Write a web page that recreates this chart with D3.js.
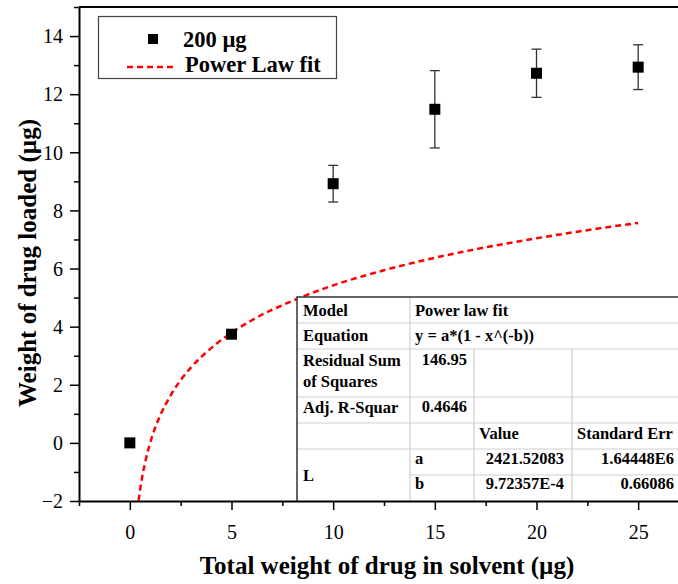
<!DOCTYPE html>
<html lang="en">
<head>
    <meta charset="UTF-8">
    <title>Drug loading vs total drug</title>
    <script src="https://d3js.org/d3.v7.min.js"></script>
    <style>
        body { margin: 0; padding: 0; background: #fff; }
        svg { display: block; font-family: "Liberation Serif", "Times New Roman", serif; }
        svg text { font-family: "Liberation Serif", "Times New Roman", serif; }
        .tick-label { font-size: 20px; fill: #000; }
        .axis-title { font-size: 25px; font-weight: bold; fill: #000; }
        .legend-text { font-size: 22.5px; font-weight: bold; fill: #000; }
        .cell { font-size: 16.5px; font-weight: bold; fill: #000; }
    </style>
</head>
<body>
<svg id="chart" width="678" height="584"></svg>
<script>
    // measured points
    const loadX = [0, 5, 10, 15, 20, 25];
    const loadY = [0, 3.74, 8.92, 11.48, 12.72, 12.93];
    const loadErr = [0, 0, 0.63, 1.33, 0.83, 0.77];

    // fit curve
    const fitX = [0.43, 0.5, 0.6, 0.75, 0.9, 1, 1.25, 1.5, 2, 2.5, 3, 4, 5, 6, 8, 10, 12.5, 15, 17.5, 20, 22.5, 25];
    const fitY = [-1.99, -1.63, -1.2, -0.68, -0.25, 0, 0.53, 0.95, 1.63, 2.16, 2.59, 3.26, 3.79, 4.22, 4.89, 5.42, 5.94, 6.37, 6.73, 7.04, 7.32, 7.57];

    const xTicks = [0, 5, 10, 15, 20, 25];
    const xMinor = [-2.5, 2.5, 7.5, 12.5, 17.5, 22.5, 27.5];
    const yTicks = [-2, 0, 2, 4, 6, 8, 10, 12, 14];
    const yMinor = [-1, 1, 3, 5, 7, 9, 11, 13, 15];

    const legendLabels = ['200 \u00b5g', 'Power Law fit'];

    // fit report table
    const tableRows = [
        ['Model', 'Power law fit'],
        ['Equation', 'y = a*(1 - x^(-b))'],
        ['Residual Sum|of Squares', '146.95', '', ''],
        ['Adj. R-Squar', '0.4646', '', ''],
        ['', '', 'Value', 'Standard Err'],
        ['L', 'a', '2421.52083', '1.64448E6'],
        ['', 'b', '9.72357E-4', '0.66086']
    ];

    const svg = d3.select('#chart');
    const x = d3.scaleLinear().domain([-2.5, 27.5]).range([79, 689]);
    const y = d3.scaleLinear().domain([-2, 15]).range([501, 7]);

    svg.append('rect').attr('width', 678).attr('height', 584).attr('fill', '#fff');

    // fit curve
    const line = d3.line()
        .x((d, i) => x(fitX[i]))
        .y(d => y(d))
        .curve(d3.curveMonotoneX);
    svg.append('path')
        .datum(fitY)
        .attr('d', line)
        .attr('fill', 'none')
        .attr('stroke', '#ff0000')
        .attr('stroke-width', 2.5)
        .attr('stroke-dasharray', '6,4');

    // table (drawn over the curve)
    const cols = [297, 410, 474, 572, 700];
    const rows = [297, 323, 349, 397, 423, 449, 475, 501];
    const tbl = svg.append('g');
    tbl.append('rect')
        .attr('x', cols[0]).attr('y', rows[0])
        .attr('width', cols[4] - cols[0]).attr('height', rows[7] - rows[0])
        .attr('fill', '#fff');
    const grey = '#cfcfcf';
    // horizontal lines
    [1, 2, 3, 4, 5].forEach(r => {
        tbl.append('line').attr('x1', cols[0]).attr('x2', cols[4])
            .attr('y1', rows[r]).attr('y2', rows[r])
            .attr('stroke', grey).attr('stroke-width', 1.2);
    });
    tbl.append('line').attr('x1', cols[1]).attr('x2', cols[4])
        .attr('y1', rows[6]).attr('y2', rows[6])
        .attr('stroke', grey).attr('stroke-width', 1.2);
    // vertical lines
    tbl.append('line').attr('x1', cols[1]).attr('x2', cols[1])
        .attr('y1', rows[0]).attr('y2', rows[7]).attr('stroke', grey).attr('stroke-width', 1.2);
    [2, 3].forEach(c => {
        tbl.append('line').attr('x1', cols[c]).attr('x2', cols[c])
            .attr('y1', rows[2]).attr('y2', rows[7]).attr('stroke', grey).attr('stroke-width', 1.2);
    });
    // outer border
    tbl.append('path')
        .attr('d', `M${cols[4]},${rows[0]}H${cols[0]}V${rows[7]}`)
        .attr('fill', 'none').attr('stroke', '#333').attr('stroke-width', 1.5);

    function cell(text, xPos, yPos, anchor) {
        tbl.append('text').attr('class', 'cell')
            .attr('x', xPos).attr('y', yPos)
            .attr('text-anchor', anchor || 'start')
            .text(text);
    }
    const base = [316, 341, 366, 413, 439, 464, 489];
    tableRows.forEach((row, r) => {
        row.forEach((txt, c) => {
            if (!txt) return;
            if (c === 0) {
                if (txt.includes('|')) {
                    const parts = txt.split('|');
                    cell(parts[0], cols[0] + 6, base[r]);
                    cell(parts[1], cols[0] + 6, base[r] + 21);
                } else if (r === 5) {
                    cell(txt, cols[0] + 6, 481);
                } else {
                    cell(txt, cols[0] + 6, base[r]);
                }
            } else if (row.length === 2) {
                cell(txt, cols[1] + 5, base[r]);
            } else if (r === 4) {
                cell(txt, cols[c] + 5, base[r]);
            } else if (c === 1 && r >= 5) {
                cell(txt, cols[1] + 5, base[r]);
            } else if (c === 1) {
                cell(txt, cols[2] - 7, base[r] - 1, 'end');
            } else if (c === 2) {
                cell(txt, cols[3] - 8, base[r], 'end');
            } else {
                cell(txt, 674, base[r], 'end');
            }
        });
    });

    // error bars
    const pts = loadX.map((v, i) => ({ x: v, y: loadY[i], e: loadErr[i] }));
    const eb = svg.append('g').attr('stroke', '#333').attr('stroke-width', 1.3);
    pts.filter(d => d.e > 0).forEach(d => {
        eb.append('line').attr('x1', x(d.x)).attr('x2', x(d.x))
            .attr('y1', y(d.y + d.e)).attr('y2', y(d.y - d.e));
        [d.y + d.e, d.y - d.e].forEach(v => {
            eb.append('line').attr('x1', x(d.x) - 5).attr('x2', x(d.x) + 5)
                .attr('y1', y(v)).attr('y2', y(v));
        });
    });

    // markers
    svg.append('g').selectAll('rect')
        .data(pts)
        .enter()
        .append('rect')
        .attr('x', d => x(d.x) - 5.5)
        .attr('y', d => y(d.y) - 5.5)
        .attr('width', 11)
        .attr('height', 11)
        .attr('fill', '#000');

    // axes
    function styleAxis(g) {
        g.attr('font-family', null).attr('font-size', null);
        g.select('.domain').attr('stroke', '#000').attr('stroke-width', 2);
        g.selectAll('.tick line').attr('stroke', '#000').attr('stroke-width', 1.5);
        g.selectAll('.tick text')
            .attr('class', 'tick-label')
            .style('font-family', '"Liberation Serif", serif')
            .style('font-size', '20px');
    }
    const yAxis = svg.append('g').attr('transform', 'translate(79,0)')
        .call(d3.axisLeft(y).tickValues(yTicks).tickSize(9).tickSizeOuter(0).tickPadding(7));
    styleAxis(yAxis);
    yAxis.selectAll('.tick text').attr('dy', '0.34em');
    const yAxisMinor = svg.append('g').attr('transform', 'translate(79,0)')
        .call(d3.axisLeft(y).tickValues(yMinor).tickSize(5).tickFormat(''));
    styleAxis(yAxisMinor);
    yAxisMinor.select('.domain').remove();

    const xAxis = svg.append('g').attr('transform', 'translate(0,501)')
        .call(d3.axisBottom(x).tickValues(xTicks).tickSize(9).tickSizeOuter(0));
    styleAxis(xAxis);
    xAxis.selectAll('.tick text').attr('y', 38).attr('dy', 0);
    const xAxisMinor = svg.append('g').attr('transform', 'translate(0,501)')
        .call(d3.axisBottom(x).tickValues(xMinor).tickSize(5).tickFormat(''));
    styleAxis(xAxisMinor);
    xAxisMinor.select('.domain').remove();

    // top frame line
    svg.append('line').attr('x1', x(-2.5)).attr('x2', x(27.5))
        .attr('y1', y(15)).attr('y2', y(15))
        .attr('stroke', '#000').attr('stroke-width', 2);

    // axis titles
    svg.append('text').attr('class', 'axis-title')
        .attr('x', 387).attr('y', 574).attr('text-anchor', 'middle')
        .text('Total weight of drug in solvent (\u00b5g)');
    svg.append('text').attr('class', 'axis-title')
        .attr('transform', 'translate(36,263) rotate(-90)')
        .attr('text-anchor', 'middle')
        .text('Weight of drug loaded (\u00b5g)');

    // legend
    const lg = svg.append('g');
    lg.append('rect').attr('x', 98.5).attr('y', 16.5).attr('width', 238).attr('height', 62)
        .attr('fill', '#fff').attr('stroke', '#444').attr('stroke-width', 1.2);
    lg.append('rect').attr('x', 148).attr('y', 34).attr('width', 10).attr('height', 10).attr('fill', '#000');
    lg.append('line').attr('x1', 127).attr('x2', 174).attr('y1', 67).attr('y2', 67)
        .attr('stroke', '#ff0000').attr('stroke-width', 2.5).attr('stroke-dasharray', '6,4');
    lg.append('text').attr('class', 'legend-text').attr('x', 183).attr('y', 47).text(legendLabels[0]);
    lg.append('text').attr('class', 'legend-text').attr('x', 185).attr('y', 72).text(legendLabels[1]);
</script>
</body>
</html>
